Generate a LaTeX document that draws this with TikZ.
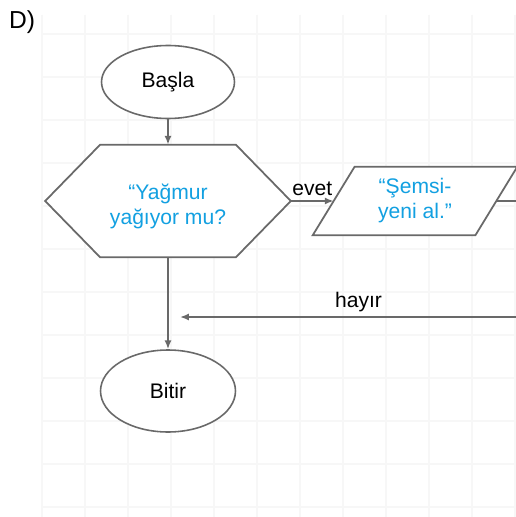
\documentclass[tikz,border=0pt]{standalone}
\usepackage{fontspec}
\setmainfont{Liberation Sans}
\usetikzlibrary{arrows.meta,shapes.geometric,positioning,calc}

\definecolor{qblue}{RGB}{18,160,225}
\definecolor{lgray}{RGB}{105,105,105}

\begin{document}
\begin{tikzpicture}[
    x=0.02cm, y=-0.02cm,
    term/.style={draw=lgray, ellipse, line width=0.9pt, font=\fontsize{12}{14}\selectfont},
    hexbox/.style={minimum width=2.7cm, minimum height=2.24cm, align=center, text=qblue, font=\fontsize{12}{14.2}\selectfont},
    iobox/.style={minimum width=3.24cm, minimum height=1.36cm, align=center, text=qblue, font=\fontsize{12}{14.2}\selectfont},
    outl/.style={draw=lgray, line width=1pt},
    arr/.style={-{Latex[length=5pt,width=4pt]}, draw=lgray, line width=1.1pt},
    lbl/.style={font=\fontsize{12}{14}\selectfont}
]
\clip (0,0) rectangle (516,517);
\fill[white] (0,0) rectangle (516,517);

% faint grid
\foreach \gx in {42,85,...,516} \draw[black!3, line width=0.8pt] (\gx,15) -- (\gx,517);
\foreach \gy in {34,77,...,517} \draw[black!3, line width=0.8pt] (42,\gy) -- (516,\gy);

\node[font=\fontsize{14}{16}\selectfont] (tag) at (22,22) {D)};

\node[term, minimum width=2.66cm, minimum height=1.46cm, fill=white] (start) at (168,82) {Başla};

\node[hexbox] (rain) at (168,201) {};
\draw[outl, fill=white] (rain.north west) -- (rain.north east) -- ([xshift=1.1cm]rain.east)
    -- (rain.south east) -- (rain.south west) -- ([xshift=-1.1cm]rain.west) -- cycle;
\node[hexbox, yshift=-0.1cm] at (rain) {“Yağmur\\yağıyor mu?};

\node[iobox] (umb) at (415,201) {};
\draw[outl, fill=white] ([xshift=0.42cm]umb.north west) -- ([xshift=0.42cm]umb.north east)
    -- ([xshift=-0.42cm]umb.south east) -- ([xshift=-0.42cm]umb.south west) -- cycle;
\node[iobox] at (umb) {“Şemsi-\\yeni al.”};

\node[term, minimum width=2.7cm, minimum height=1.64cm, fill=white] (stop) at (168,391) {Bitir};

\coordinate (back) at (530,317);
\coordinate (backend) at (180,317);
\coordinate (umbout) at (530,201);

\draw[arr] (start) -- (rain);
\draw[arr] ([xshift=1.1cm]rain.east) -- node[lbl, above, yshift=-1pt] {evet} (umb.west);
\draw[outl] (umb.east) -- (umbout);
\draw[arr] (back) -- node[lbl, above, pos=0.49, yshift=-1pt] {hayır} (backend);
\draw[arr] (rain.south) -- (stop);
\end{tikzpicture}
\end{document}
